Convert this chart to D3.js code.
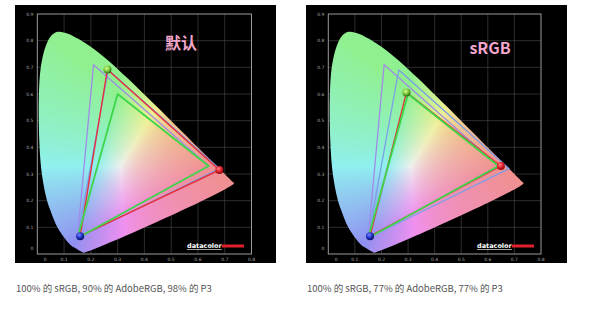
<!DOCTYPE html>
<html>
<head>
<meta charset="utf-8">
<script src="https://cdn.jsdelivr.net/npm/d3@7"></script>
<style>
  body { margin: 0; background: #fff; }
  svg { display: block; }
</style>
</head>
<body>
<div id="chart"></div>
<script>
// spectral locus outline as it appears in the screenshot (blue end -> red end)
var spectralLocus = [
  [0.1741,0.0050],[0.1700,0.0060],[0.1600,0.0110],[0.1480,0.0190],[0.1250,0.0330],
  [0.1000,0.0620],[0.0750,0.1000],[0.0520,0.1550],[0.0350,0.2050],[0.0170,0.3000],
  [0.0085,0.4000],[0.0055,0.5000],[0.0060,0.6000],[0.0130,0.7000],[0.0300,0.7750],
  [0.0520,0.8180],[0.0760,0.8330],[0.1142,0.8262],
  [0.1547,0.8059],[0.1929,0.7816],[0.2296,0.7543],[0.2658,0.7243],[0.3016,0.6923],
  [0.3373,0.6589],[0.3731,0.6245],[0.4087,0.5896],[0.4441,0.5547],[0.4788,0.5202],
  [0.5125,0.4866],[0.5448,0.4544],[0.5752,0.4242],[0.6029,0.3965],[0.6270,0.3725],
  [0.6482,0.3514],[0.6658,0.3340],[0.6801,0.3197],[0.6915,0.3083],[0.7006,0.2993],
  [0.7079,0.2920],[0.7140,0.2859],[0.7190,0.2809],[0.7230,0.2770],[0.7260,0.2740],
  [0.7300,0.2700],[0.7347,0.2653]
];

// reference gamuts: red, green, blue primaries
var adobeRGB = [[0.64,0.33],[0.21,0.71],[0.15,0.06]];
var dciP3    = [[0.68,0.32],[0.265,0.69],[0.15,0.06]];
var sRGB     = [[0.64,0.33],[0.30,0.60],[0.15,0.06]];

// measured display primaries for each mode
var measuredDefault = [[0.68,0.315],[0.262,0.692],[0.160,0.067]];
var measuredSRGB    = [[0.649,0.330],[0.294,0.606],[0.157,0.067]];

var titles   = ["默认", "sRGB"];
var captions = ["100% 的 sRGB, 90% 的 AdobeRGB, 98% 的 P3",
                "100% 的 sRGB, 77% 的 AdobeRGB, 77% 的 P3"];
var xTicks = [0,0.1,0.2,0.3,0.4,0.5,0.6,0.7,0.8];
var yTicks = [0,0.1,0.2,0.3,0.4,0.5,0.6,0.7,0.8,0.9];

var w = 600, h = 312;

var svg = d3.select("#chart").append("svg")
  .attr("width", w).attr("height", h);

var defs = svg.append("defs");

// sphere-like gradients for measured primaries
var markerColors = [
  {id: "ballR", light: "#ff8a8a", mid: "#e0202c", dark: "#8a0a10"},
  {id: "ballG", light: "#d8ff9a", mid: "#7cc83a", dark: "#2e6a14"},
  {id: "ballB", light: "#7a8aff", mid: "#2030c8", dark: "#0a1060"}
];
markerColors.forEach(function(m) {
  var g = defs.append("radialGradient").attr("id", m.id)
    .attr("cx", "40%").attr("cy", "35%").attr("r", "65%");
  g.append("stop").attr("offset", "0%").attr("stop-color", m.light);
  g.append("stop").attr("offset", "55%").attr("stop-color", m.mid);
  g.append("stop").attr("offset", "100%").attr("stop-color", m.dark);
});

var panels = [
  {bx: 15,  left: 37.3,  right: 251.5, measured: measuredDefault, tx: 181, ty: 49, logo: 187},
  {bx: 306, left: 328.3, right: 541,   measured: measuredSRGB,    tx: 490, ty: 54, logo: 477}
];

// chromaticity -> pastel screen colour
function xyColor(x, y) {
  var X = x / y, Y = 1, Z = (1 - x - y) / y;
  var r =  3.2406*X - 1.5372*Y - 0.4986*Z;
  var g = -0.9689*X + 1.8758*Y + 0.0415*Z;
  var b =  0.0557*X - 0.2040*Y + 1.0570*Z;
  r = Math.max(r, 0); g = Math.max(g, 0); b = Math.max(b, 0);
  var m = Math.max(r, g, b) || 1;
  return [r/m, g/m, b/m].map(function(c) {
    c = Math.pow(c, 0.75);
    return Math.round(255 * 0.94 * (0.40*c + 0.60));
  });
}

panels.forEach(function(p, i) {
  var x = d3.scaleLinear().domain([0, 0.8]).range([p.left, p.right]);
  var y = d3.scaleLinear().domain([0, 0.9]).range([254, 14]);
  var g = svg.append("g");

  g.append("rect").attr("x", p.bx).attr("y", 5)
    .attr("width", 261).attr("height", 258).attr("fill", "#000");

  // grid
  g.selectAll(".vg").data(xTicks.slice(1, -1)).enter().append("line")
    .attr("x1", function(d) { return x(d); }).attr("x2", function(d) { return x(d); })
    .attr("y1", y(0)).attr("y2", y(0.9))
    .attr("stroke", "#4a4a4a").attr("stroke-width", 0.6);
  g.selectAll(".hg").data(yTicks.slice(1, -1)).enter().append("line")
    .attr("y1", function(d) { return y(d); }).attr("y2", function(d) { return y(d); })
    .attr("x1", x(0)).attr("x2", x(0.8))
    .attr("stroke", "#4a4a4a").attr("stroke-width", 0.6);
  g.append("rect").attr("x", x(0)).attr("y", y(0.9))
    .attr("width", x(0.8) - x(0)).attr("height", y(0) - y(0.9))
    .attr("fill", "none").attr("stroke", "#9a9a9a").attr("stroke-width", 1);

  // tick labels
  g.selectAll(".xl").data(xTicks).enter().append("text")
    .attr("x", function(d) { return x(d) + (d === 0 ? 8 : 0); })
    .attr("y", 260.5).attr("text-anchor", "middle")
    .attr("font-family", "DejaVu Sans").attr("font-size", 4.5).attr("fill", "#aaa")
    .text(function(d) { return d === 0 ? "0" : d3.format(".1f")(d); });
  g.selectAll(".yl").data(yTicks).enter().append("text")
    .attr("x", x(0) - 4)
    .attr("y", function(d) { return y(d) + 1.5 - (d === 0 ? 6 : 0); })
    .attr("text-anchor", "end")
    .attr("font-family", "DejaVu Sans").attr("font-size", 4.5).attr("fill", "#aaa")
    .text(function(d) { return d === 0 ? "0" : d3.format(".1f")(d); });

  // gamut fill: paint chromaticity colours, clip to the locus
  var cw = Math.ceil(x(0.8) - x(0)), ch = Math.ceil(y(0) - y(0.9));
  var canvas = document.createElement("canvas");
  canvas.width = cw; canvas.height = ch;
  var ctx = canvas.getContext("2d");
  var img = ctx.createImageData(cw, ch);
  for (var j = 0; j < ch; j++) {
    var cy = y.invert(y(0.9) + j + 0.5);
    for (var k = 0; k < cw; k++) {
      var cx = x.invert(x(0) + k + 0.5);
      var idx = (j * cw + k) * 4;
      if (cy < 0.001) { img.data[idx+3] = 0; continue; }
      var c = xyColor(cx, cy);
      img.data[idx] = c[0]; img.data[idx+1] = c[1]; img.data[idx+2] = c[2]; img.data[idx+3] = 255;
    }
  }
  ctx.putImageData(img, 0, 0);

  var line = d3.line().x(function(d) { return x(d[0]); }).y(function(d) { return y(d[1]); })
    .curve(d3.curveCatmullRomClosed);
  defs.append("clipPath").attr("id", "locus" + i)
    .append("path").attr("d", line(spectralLocus));
  g.append("image")
    .attr("x", x(0)).attr("y", y(0.9)).attr("width", cw).attr("height", ch)
    .attr("href", canvas.toDataURL())
    .attr("clip-path", "url(#locus" + i + ")");

  // gamut triangles
  var tri = d3.line().x(function(d) { return x(d[0]); }).y(function(d) { return y(d[1]); })
    .curve(d3.curveLinearClosed);
  var gamuts = [
    {pts: adobeRGB, color: "#a08ce6", width: 1.3},
    {pts: dciP3,    color: "#7c9ee6", width: 1.3},
    {pts: p.measured, color: "#e8303c", width: 1.4},
    {pts: sRGB,     color: "#3fd64a", width: 1.8}
  ];
  g.selectAll(".tri").data(gamuts).enter().append("path")
    .attr("d", function(d) { return tri(d.pts); })
    .attr("fill", "none")
    .attr("stroke", function(d) { return d.color; })
    .attr("stroke-width", function(d) { return d.width; })
    .attr("stroke-linejoin", "round");

  // measured primaries
  g.selectAll(".ball").data(p.measured).enter().append("circle")
    .attr("cx", function(d) { return x(d[0]); })
    .attr("cy", function(d) { return y(d[1]); })
    .attr("r", 4)
    .attr("fill", function(d, n) { return "url(#" + markerColors[n].id + ")"; });

  // title
  g.append("text").attr("x", p.tx).attr("y", p.ty).attr("text-anchor", "middle")
    .attr("font-family", "Noto Sans CJK SC").attr("font-weight", "bold")
    .attr("font-size", 16).attr("fill", "#f2a6cc").text(titles[i]);

  // datacolor logo
  g.append("text").attr("x", p.logo).attr("y", 248)
    .attr("font-family", "DejaVu Sans").attr("font-weight", "bold")
    .attr("font-size", 6.5).attr("fill", "#fff").attr("text-decoration", "underline")
    .text("datacolor");
  g.append("rect").attr("x", p.logo + 35).attr("y", 244.5)
    .attr("width", 22).attr("height", 3).attr("fill", "#e0202c");

  // caption
  svg.append("text").attr("x", i === 0 ? 16 : 307).attr("y", 292)
    .attr("font-family", "Noto Sans CJK SC").attr("font-size", 9.5).attr("fill", "#555")
    .text(captions[i]);
});
</script>
</body>
</html>
